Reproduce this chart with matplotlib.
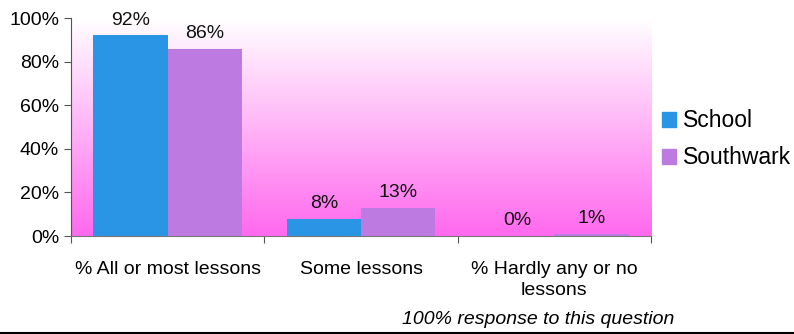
import numpy as np
import matplotlib.pyplot as plt
from matplotlib.patches import Patch

plt.rcParams['font.family'] = ['Liberation Sans', 'DejaVu Sans']

categories = ["% All or most lessons", "Some lessons", "% Hardly any or no\nlessons"]
school = [92, 8, 0]
southwark = [86, 13, 1]
series_names = ["School", "Southwark"]

blue = '#2B95E5'
purple = '#BD7BE2'

fig = plt.figure(figsize=(7.94, 3.34), dpi=100)
ax = fig.add_axes([0.0894, 0.2934, 0.7306, 0.6526])

x = np.arange(len(categories))
w = 0.385

# gradient background (white top -> pink bottom)
grad = np.linspace(0, 1, 256).reshape(-1, 1)
top = np.array([1.0, 1.0, 1.0])
bot = np.array([255, 105, 238]) / 255
img = top + (bot - top) * grad[:, :, None] * np.ones((1, 1, 3))
ax.imshow(img, extent=[-0.5, 2.5, 0, 100], aspect='auto', origin='upper', zorder=0)

b1 = ax.bar(x - w / 2, school, w, color=blue, zorder=2)
b2 = ax.bar(x + w / 2, southwark, w, color=purple, zorder=2)

for bars, vals in [(b1, school), (b2, southwark)]:
    for r, v in zip(bars, vals):
        ax.annotate(f"{v}%", (r.get_x() + r.get_width() / 2, v),
                    xytext=(0, 5), textcoords='offset points',
                    ha='center', va='bottom', fontsize=14, color='#111111')

ax.set_xlim(-0.5, 2.5)
ax.set_ylim(0, 100)
ax.set_yticks([0, 20, 40, 60, 80, 100])
ax.set_yticklabels([f"{t}%" for t in [0, 20, 40, 60, 80, 100]], fontsize=14)
ax.set_xticks([-0.5, 0.5, 1.5, 2.5])
ax.set_xticklabels([])
ax.set_xticks(x, minor=True)
ax.set_xticklabels(categories, minor=True, fontsize=14, linespacing=1.3)
ax.tick_params(axis='x', which='minor', length=0, pad=18)
ax.tick_params(axis='x', which='major', length=5, direction='out', color='#555555')
ax.tick_params(axis='y', length=5, direction='out', color='#555555')

for s in ['top', 'right']:
    ax.spines[s].set_visible(False)
ax.spines['left'].set_color('#555555')
ax.spines['bottom'].set_color('#777777')

handles = [Patch(color=blue), Patch(color=purple)]
fig.legend(handles, series_names, loc='center left', bbox_to_anchor=(0.834, 0.583),
           frameon=False, fontsize=16.5, handlelength=0.62, handleheight=0.62,
           handletextpad=0.3, labelspacing=0.6, borderaxespad=0, borderpad=0)

fig.text(0.678, 0.042, "100% response to this question", fontsize=14,
         style='italic', ha='center', va='center')
fig.add_artist(plt.Line2D([0, 1], [0.004, 0.004], color='black', lw=1.5,
                          transform=fig.transFigure))

plt.savefig('out.png', dpi=100)
